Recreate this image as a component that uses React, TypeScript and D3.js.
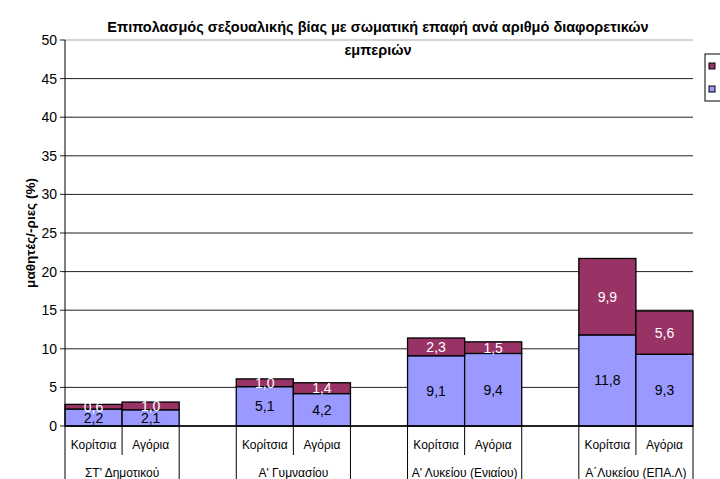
import * as d3 from 'd3';

const groups = ["ΣΤ' Δημοτικού", "Α' Γυμνασίου", "Α' Λυκείου (Ενιαίου)", "Α΄Λυκείου (ΕΠΑ.Λ)"];
const genders = ['Κορίτσια', 'Αγόρια'];
// bottom (blue) and top (purple) series, order: group x gender
const seriesOne = [2.2, 2.1, 5.1, 4.2, 9.1, 9.4, 11.8, 9.3];
const seriesMore = [0.6, 1.0, 1.0, 1.4, 2.3, 1.5, 9.9, 5.6];
const yTicks = [0, 5, 10, 15, 20, 25, 30, 35, 40, 45, 50];

const fmt = (v: number) => v.toFixed(1).replace('.', ',');

const App = () => {
    const margin = { top: 40, left: 65, right: 27, bottom: 53 };
    const W = 720, H = 479;

    // 11 slots: K, A, blank, K, A, blank, ...
    const slots: string[] = [];
    groups.forEach((g, gi) => {
        genders.forEach((s) => slots.push(g + '|' + s));
        if (gi < groups.length - 1) slots.push('blank' + gi);
    });

    const x = d3.scaleBand().domain(slots).range([margin.left, W - margin.right]).padding(0);
    const y = d3.scaleLinear().domain([0, 50]).range([H - margin.bottom, margin.top]);

    const bars: any[] = [];
    groups.forEach((g, gi) => {
        genders.forEach((s, si) => {
            const i = gi * 2 + si;
            bars.push({ key: g + '|' + s, a: seriesOne[i], b: seriesMore[i] });
        });
    });

    const stack = d3.stack().keys(['a', 'b'])(bars as any);
    const colors = ['#9999FF', '#993366'];
    const labelColors = ['#000', '#fff'];
    const bw = x.bandwidth();
    const y0 = y(0);
    const font = 'Liberation Sans, Arial, sans-serif';

    return (
        <svg width={W} height={H} style={{ position: 'absolute', left: 0, top: 0, background: '#fff' }} fontFamily={font}>
            {yTicks.map((t) => (
                <g key={t}>
                    <line x1={margin.left} x2={W - margin.right} y1={y(t)} y2={y(t)} stroke={t === 50 ? '#aaa' : '#222'} strokeWidth={1} />
                    <line x1={margin.left - 5} x2={margin.left} y1={y(t)} y2={y(t)} stroke="#222" />
                    <text x={margin.left - 8} y={y(t) + 5} textAnchor="end" fontSize={14}>{t}</text>
                </g>
            ))}
            {stack.map((layer: any, li: number) => (
                <g key={li}>
                    {layer.map((d: any, i: number) => (
                        <g key={i}>
                            <rect x={x(bars[i].key)} y={y(d[1])} width={bw} height={y(d[0]) - y(d[1])}
                                fill={colors[li]} stroke="#000" strokeWidth={1.3} />
                            <text x={(x(bars[i].key) as number) + bw / 2} y={(y(d[0]) + y(d[1])) / 2 + 5}
                                textAnchor="middle" fontSize={14} fill={labelColors[li]}>{fmt(d[1] - d[0])}</text>
                        </g>
                    ))}
                </g>
            ))}
            <line x1={margin.left} x2={W - margin.right} y1={y0} y2={y0} stroke="#000" strokeWidth={1.3} />
            <line x1={margin.left} x2={margin.left} y1={margin.top} y2={H} stroke="#000" strokeWidth={1} />
            {groups.map((g, gi) => {
                const xs = x(g + '|' + genders[0]) as number;
                const xe = (x(g + '|' + genders[1]) as number) + bw;
                return (
                    <g key={g}>
                        {gi > 0 && <line x1={xs} x2={xs} y1={y0} y2={H} stroke="#000" />}
                        <line x1={xs + bw} x2={xs + bw} y1={y0} y2={y0 + 29} stroke="#000" />
                        <line x1={xe} x2={xe} y1={y0} y2={H} stroke="#000" />
                        {genders.map((s) => (
                            <text key={s} x={(x(g + '|' + s) as number) + bw / 2} y={y0 + 23} textAnchor="middle" fontSize={12}>{s}</text>
                        ))}
                        <text x={(xs + xe) / 2} y={y0 + 51} textAnchor="middle" fontSize={12}>{g}</text>
                    </g>
                );
            })}
            <text x={378} y={32} textAnchor="middle" fontSize={14.5} fontWeight="bold">Επιπολασμός σεξουαλικής βίας με σωματική επαφή ανά αριθμό διαφορετικών</text>
            <text x={378} y={55} textAnchor="middle" fontSize={14.5} fontWeight="bold">εμπεριών</text>
            <text transform={`translate(35, ${(margin.top + y0) / 2}) rotate(-90)`} textAnchor="middle" fontSize={13.5} fontWeight="bold">μαθητές/-ριες (%)</text>
            <rect x={705} y={54} width={30} height={47} fill="#fff" stroke="#000" />
            <rect x={709} y={63} width={6} height={6} fill={colors[1]} stroke="#000" />
            <rect x={709} y={86} width={6} height={6} fill={colors[0]} stroke="#000" />
        </svg>
    );
};

export default App;
